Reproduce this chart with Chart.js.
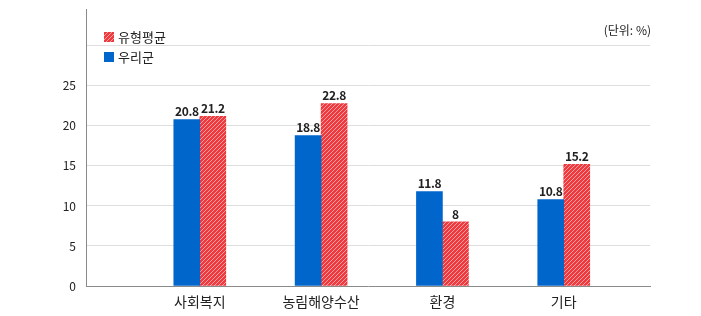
<!DOCTYPE html>
<html>
<head>
<meta charset="utf-8">
<script src="https://cdn.jsdelivr.net/npm/chart.js@4/dist/chart.umd.min.js"></script>
<style>
html,body{margin:0;padding:0;background:#fff;}
canvas{display:block;}
</style>
</head>
<body>
<canvas id="c" width="701" height="316"></canvas>
<script>
const categories = ['사회복지', '농림해양수산', '환경', '기타'];
const ourCounty = [20.8, 18.8, 11.8, 10.8];
const typeAverage = [21.2, 22.8, 8, 15.2];
const seriesNames = ['우리군', '유형평균'];
const yTickLabels = [0, 5, 10, 15, 20, 25];
const unitText = '(단위: %)';

const FONT = '"Noto Sans CJK KR", "Malgun Gothic", sans-serif';
const BLUE = '#0066cc';
const RED = '#ee3a3e';

function makeHatch() {
  const t = document.createElement('canvas');
  t.width = 4; t.height = 4;
  const g = t.getContext('2d');
  g.fillStyle = RED;
  g.fillRect(0, 0, 4, 4);
  g.fillStyle = 'rgba(255,230,230,0.6)';
  for (let i = 0; i < 4; i++) g.fillRect(i, 3 - i, 1, 1);
  return document.getElementById('c').getContext('2d').createPattern(t, 'repeat');
}
const hatch = makeHatch();

const valueLabels = {
  id: 'valueLabels',
  afterDatasetsDraw(chart) {
    const ctx = chart.ctx;
    ctx.save();
    ctx.font = 'bold 12px ' + FONT;
    try { ctx.letterSpacing = '-0.4px'; } catch (e) {}
    ctx.fillStyle = '#222';
    ctx.textAlign = 'center';
    ctx.textBaseline = 'bottom';
    chart.data.datasets.forEach((ds, di) => {
      const meta = chart.getDatasetMeta(di);
      meta.data.forEach((el, i) => {
        ctx.fillText(String(ds.data[i].y), el.x, el.y - 2);
      });
    });
    ctx.restore();
  }
};

const customLegend = {
  id: 'customLegend',
  afterDraw(chart) {
    const ctx = chart.ctx;
    const a = chart.chartArea;
    ctx.save();
    ctx.font = '13px ' + FONT;
    ctx.textBaseline = 'middle';
    ctx.textAlign = 'left';
    const items = [
      {text: seriesNames[1], fill: chart.data.datasets[1].backgroundColor},
      {text: seriesNames[0], fill: chart.data.datasets[0].backgroundColor}
    ];
    items.forEach((it, k) => {
      const bx = a.left + 18, by = a.top + 23 + k * 20;
      ctx.fillStyle = it.fill;
      ctx.fillRect(bx, by, 10, 10);
      ctx.fillStyle = '#222';
      ctx.fillText(it.text, bx + 14, by + 5);
    });
    ctx.font = '12px ' + FONT;
    ctx.textAlign = 'right';
    ctx.fillStyle = '#222';
    ctx.fillText(unitText, a.right + 1, 30);
    ctx.restore();
  }
};

new Chart(document.getElementById('c'), {
  type: 'bar',
  data: {
    datasets: [
      {
        label: seriesNames[0],
        data: ourCounty.map((v, i) => ({x: i, y: v})),
        backgroundColor: BLUE,
        borderWidth: 0,
        barThickness: 26
      },
      {
        label: seriesNames[1],
        data: typeAverage.map((v, i) => ({x: i, y: v})),
        backgroundColor: hatch,
        borderWidth: 0,
        barThickness: 26
      }
    ]
  },
  options: {
    responsive: false,
    animation: false,
    devicePixelRatio: 1,
    layout: {padding: {left: 0, right: 51, top: 9, bottom: 0}},
    plugins: {legend: {display: false}, tooltip: {enabled: false}},
    scales: {
      x: {
        type: 'linear',
        offset: false,
        min: -0.938,
        max: 3.711,
        grid: {display: false, drawTicks: false, offset: false},
        border: {display: true, color: '#8a8a8a', width: 1},
        afterBuildTicks: (s) => { s.ticks = categories.map((_, i) => ({value: i})); },
        afterFit: (s) => { s.height = 30; s.paddingLeft = 0; s.paddingRight = 0; },
        ticks: {
          autoSkip: false,
          maxRotation: 0,
          padding: 7,
          color: '#222',
          font: {family: FONT, size: 14},
          callback: (v) => categories[v] ?? ''
        }
      },
      y: {
        min: 0,
        max: 34.6,
        afterBuildTicks: (s) => {
          s.ticks = yTickLabels.map(v => ({value: v})).concat([{value: 30}]);
        },
        afterFit: (s) => { s.width = 86; s.paddingTop = 0; s.paddingBottom = 0; },
        grid: {
          drawTicks: false,
          color: (c) => (c.tick && c.tick.value === 0) ? 'rgba(0,0,0,0)' : '#dedede',
          lineWidth: 1
        },
        border: {display: true, color: '#8a8a8a', width: 1},
        ticks: {
          padding: 10,
          color: '#222',
          font: {family: FONT, size: 12},
          callback: (v) => yTickLabels.includes(v) ? String(v) : ''
        }
      }
    }
  },
  plugins: [valueLabels, customLegend]
});
</script>
</body>
</html>
